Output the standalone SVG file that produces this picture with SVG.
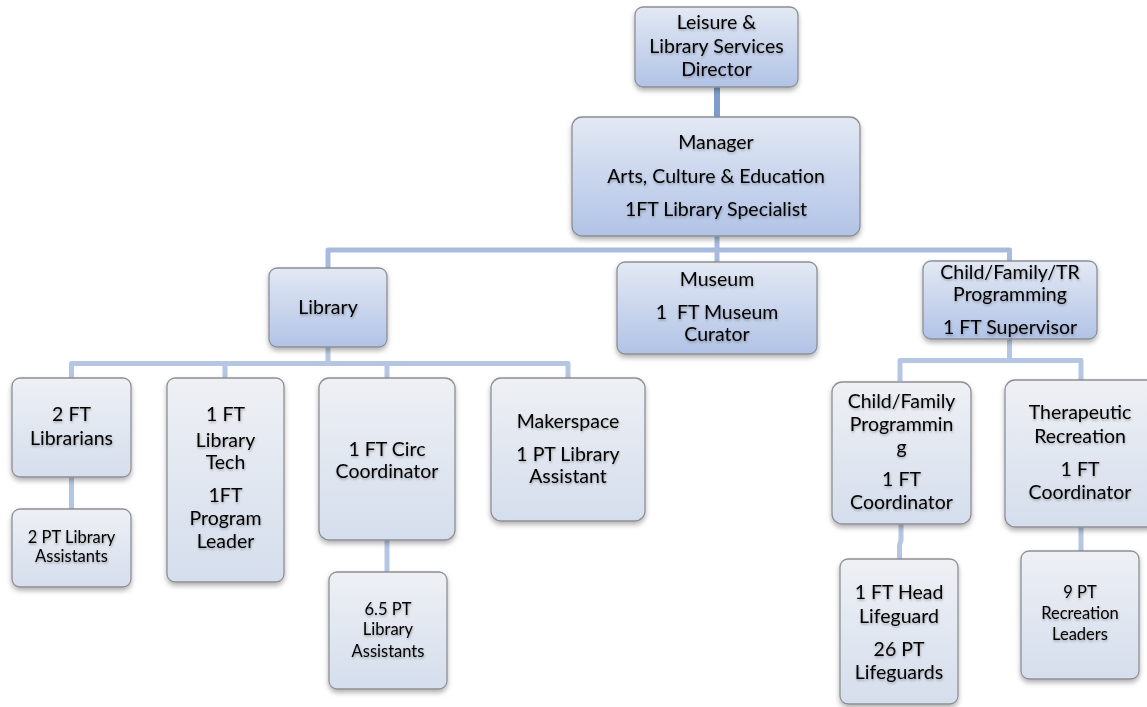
<svg xmlns="http://www.w3.org/2000/svg" width="1147" height="707" viewBox="0 0 1147 707">
  <defs>
    <linearGradient id="gBlue" x1="0" y1="0" x2="0" y2="1">
      <stop offset="0" stop-color="#e3e9f4"/>
      <stop offset="1" stop-color="#b1c3e6"/>
    </linearGradient>
    <linearGradient id="gPale" x1="0" y1="0" x2="0" y2="1">
      <stop offset="0" stop-color="#eef0f4"/>
      <stop offset="1" stop-color="#d5deed"/>
    </linearGradient>
    <filter id="boxShadow" x="-10%" y="-10%" width="120%" height="130%">
      <feDropShadow dx="0" dy="3" stdDeviation="2.5" flood-color="#000" flood-opacity="0.3"/>
    </filter>
    <filter id="txtShadow" x="-5%" y="-20%" width="110%" height="150%">
      <feDropShadow dx="0.5" dy="1.5" stdDeviation="1.2" flood-color="#000" flood-opacity="0.3"/>
    </filter>
  </defs>
  <style>
    .box { stroke: #8d8f94; stroke-width: 1.3; filter: url(#boxShadow); }
    .blue { fill: url(#gBlue); }
    .pale { fill: url(#gPale); }
    text { font-family: Lato, "Open Sans", "Liberation Sans", sans-serif; font-size: 19.5px; fill: #000; text-anchor: middle; filter: url(#txtShadow); }
    text.sm { font-size: 16.5px; }
    .conn { fill: none; stroke: #b5c6e3; stroke-width: 5; stroke-linejoin: round; stroke-linecap: butt; }
    .conn.top { stroke: #7f9dcc; stroke-width: 6; }
    .conn.mid { stroke: #a7bbdf; }
  </style>

  <rect width="1147" height="707" fill="#ffffff"/>

  <!-- connectors -->
  <g id="connectors">
    <path class="conn top" d="M717 87 V118"/>
    <path class="conn mid" d="M717 236 V250 M328 268 V250 H1009.5 V261 M717 250 V262"/>
    <path class="conn" d="M328 347 V363.5 M71.5 378 V363.5 H568 V378 M225 363.5 V378 M387 363.5 V378"/>
    <path class="conn" d="M1009.5 339 V360.5 M900 381 V360.5 H1081 V381"/>
    <path class="conn" d="M71.5 477 V509"/>
    <path class="conn" d="M387 540 V572"/>
    <path class="conn" d="M901 524 V540 L899.5 545 V559"/>
    <path class="conn" d="M1081 527 V551"/>
  </g>

  <g id="director">
    <rect class="box blue" x="635" y="7" width="163" height="80" rx="8"/>
    <text x="716.5" y="29">Leisure &amp;</text>
    <text x="716.5" y="53">Library Services</text>
    <text x="716.5" y="76">Director</text>
  </g>

  <g id="manager">
    <rect class="box blue" x="572" y="117" width="288" height="119" rx="10"/>
    <text x="716" y="149">Manager</text>
    <text x="716" y="183">Arts, Culture &amp; Education</text>
    <text x="716" y="216">1FT Library Specialist</text>
  </g>

  <g id="library">
    <rect class="box blue" x="269" y="268" width="118" height="79" rx="8"/>
    <text x="328" y="314">Library</text>
  </g>

  <g id="museum">
    <rect class="box blue" x="617" y="262" width="200" height="92" rx="8"/>
    <text x="717" y="286">Museum</text>
    <text x="717" y="319" xml:space="preserve">1  FT Museum</text>
    <text x="717" y="341">Curator</text>
  </g>

  <g id="child-family-tr">
    <rect class="box blue" x="923" y="261" width="174" height="78" rx="8"/>
    <text x="1010" y="279">Child/Family/TR</text>
    <text x="1010" y="301">Programming</text>
    <text x="1010" y="334">1 FT Supervisor</text>
  </g>

  <g id="librarians">
    <rect class="box pale" x="12" y="378" width="119" height="99" rx="8"/>
    <text x="71.5" y="421">2 FT</text>
    <text x="71.5" y="445">Librarians</text>
  </g>

  <g id="pt-assistants-2">
    <rect class="box pale" x="12" y="509" width="119" height="78" rx="8"/>
    <text class="sm" x="71.5" y="543">2 PT Library</text>
    <text class="sm" x="71.5" y="562">Assistants</text>
  </g>

  <g id="library-tech">
    <rect class="box pale" x="167" y="378" width="117" height="204" rx="8"/>
    <text x="225.5" y="421">1 FT</text>
    <text x="225.5" y="447">Library</text>
    <text x="225.5" y="469">Tech</text>
    <text x="225.5" y="502">1FT</text>
    <text x="225.5" y="525">Program</text>
    <text x="225.5" y="548">Leader</text>
  </g>

  <g id="circ">
    <rect class="box pale" x="319" y="378" width="136" height="162" rx="10"/>
    <text x="387" y="456">1 FT Circ</text>
    <text x="387" y="478">Coordinator</text>
  </g>

  <g id="pt-assistants-6-5">
    <rect class="box pale" x="329" y="572" width="118" height="117" rx="8"/>
    <text class="sm" x="388" y="615">6.5 PT</text>
    <text class="sm" x="388" y="635">Library</text>
    <text class="sm" x="388" y="657">Assistants</text>
  </g>

  <g id="makerspace">
    <rect class="box pale" x="491" y="378" width="154" height="143" rx="10"/>
    <text x="568" y="428">Makerspace</text>
    <text x="568" y="461">1 PT Library</text>
    <text x="568" y="483">Assistant</text>
  </g>

  <g id="child-family">
    <rect class="box pale" x="832" y="382" width="139" height="142" rx="10"/>
    <text x="901.5" y="408">Child/Family</text>
    <text x="901.5" y="431">Programmin</text>
    <text x="901.5" y="454">g</text>
    <text x="901.5" y="486">1 FT</text>
    <text x="901.5" y="509">Coordinator</text>
  </g>

  <g id="therapeutic">
    <rect class="box pale" x="1005" y="380" width="152" height="147" rx="10"/>
    <text x="1080" y="419">Therapeutic</text>
    <text x="1080" y="443">Recreation</text>
    <text x="1080" y="476">1 FT</text>
    <text x="1080" y="499">Coordinator</text>
  </g>

  <g id="lifeguards">
    <rect class="box pale" x="840" y="559" width="118" height="145" rx="8"/>
    <text x="899" y="599">1 FT Head</text>
    <text x="899" y="623">Lifeguard</text>
    <text x="899" y="656">26 PT</text>
    <text x="899" y="679">Lifeguards</text>
  </g>

  <g id="recreation-leaders">
    <rect class="box pale" x="1021" y="551" width="118" height="128" rx="8"/>
    <text class="sm" x="1080" y="598">9 PT</text>
    <text class="sm" x="1080" y="619">Recreation</text>
    <text class="sm" x="1080" y="640">Leaders</text>
  </g>
</svg>
